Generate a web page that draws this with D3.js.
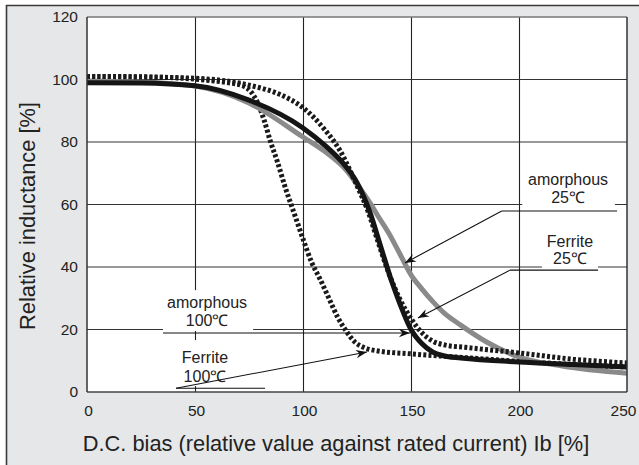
<!DOCTYPE html>
<html><head><meta charset="utf-8">
<script src="https://cdn.jsdelivr.net/npm/d3@7"></script>
<style>body{margin:0;background:#fff}svg{display:block;font-family:"Liberation Sans",Arial,Helvetica,sans-serif}</style>
</head><body><svg id="c" width="639" height="465"></svg>
<script>
// ---- data ----
const xTickValues=[0,50,100,150,200,250];
const yTickValues=[0,20,40,60,80,100,120];
const xTitle="D.C. bias (relative value against rated current) Ib [%]";
const yTitle="Relative inductance [%]";
const seriesNames=["amorphous 25℃","Ferrite 25℃","amorphous 100℃","Ferrite 100℃"];
const amorphous25=[[0,99.5],[25,99.2],[50,97.9],[75,92.5],[100,81.6],[110,77],[120,71],[126,65.5],[131,60.5],[135,56],[140,50.5],[145,44],[150,37.5],[155,33],[160,29],[165,25.5],[173,21.4],[185,16],[200,11.2],[220,8.3],[250,6]];
const ferrite25=[[0,101],[25,100.8],[50,100.4],[75,98.2],[90,95],[100,91],[110,84],[117,77.4],[125,66],[130,58],[135,47.5],[140,37.5],[145,29.5],[150,23.5],[155,19],[160,16.3],[166,15],[175,14.3],[200,12.5],[225,10.5],[250,9.3]];
const amorphous100=[[0,99],[25,98.9],[50,98],[75,93.4],[100,84.5],[110,79],[120,72],[125,67],[131,57.5],[136,46.5],[141,35.5],[145,28],[150,20],[155,15.5],[160,12.8],[165,11.6],[173,10.9],[200,9.6],[225,8.8],[250,8]];
const ferrite100=[[0,101],[30,100.8],[55,99.8],[65,99],[72,98],[76,96],[79,92.5],[82,87],[85,80],[88,74],[92,65],[96,57],[100,49],[104,41.5],[108,36],[112,30],[116,24],[120,19.5],[124,16],[128,14.3],[134,13.2],[150,12.2],[175,11],[200,9.8],[225,8.8],[250,8]];
const labelLines=[["amorphous","25℃"],["Ferrite","25℃"],["amorphous","100℃"],["Ferrite","100℃"]];

// ---- layout ----
const W=639,H=465;
const svg=d3.select("#c");
const x=d3.scaleLinear().domain([0,250]).range([87,627]);
const y=d3.scaleLinear().domain([0,120]).range([392,17]);

// outer panel
svg.append("rect").attr("x",6).attr("y",5).attr("width",W).attr("height",H).attr("fill","#e6e7e8");
svg.append("line").attr("x1",6.5).attr("x2",6.5).attr("y1",5).attr("y2",H).attr("stroke","#3a3a3a").attr("stroke-width",1.6);
svg.append("line").attr("x1",6).attr("x2",W).attr("y1",5.5).attr("y2",5.5).attr("stroke","#3a3a3a").attr("stroke-width",1.6);

// plot area
svg.append("rect").attr("x",x(0)).attr("y",y(120)).attr("width",x(250)-x(0)).attr("height",y(0)-y(120)).attr("fill","#fff");

const g=svg.append("g");
// grid
g.selectAll(".vg").data(xTickValues.slice(1,-1)).join("line")
 .attr("x1",d=>x(d)+0.5).attr("x2",d=>x(d)+0.5).attr("y1",y(120)).attr("y2",y(0))
 .attr("stroke","#222").attr("stroke-width",1.1);
g.selectAll(".hg").data(yTickValues.slice(1,-1)).join("line")
 .attr("x1",x(0)).attr("x2",x(250)).attr("y1",d=>y(d)).attr("y2",d=>y(d))
 .attr("stroke","#333").attr("stroke-width",1.2);

// axes (labels only, via d3 axis)
const xAxis=svg.append("g").attr("transform",`translate(0,${y(0)})`)
 .call(d3.axisBottom(x).tickValues(xTickValues).tickSize(0).tickPadding(13));
const yAxis=svg.append("g").attr("transform",`translate(${x(0)},0)`)
 .call(d3.axisLeft(y).tickValues(yTickValues).tickSize(0).tickPadding(9));
[xAxis,yAxis].forEach(a=>{a.select(".domain").remove();
 a.selectAll("text").attr("font-size",15.5).attr("fill","#222").attr("font-family",'"Liberation Sans",Arial,sans-serif');});
xAxis.selectAll("text").attr("dx",(d,i)=>i===xTickValues.length-1?"-4":"1");

// curves
const line=d3.line().x(d=>x(d[0])).y(d=>y(d[1])).curve(d3.curveMonotoneX);
const series=[
 {data:ferrite100,color:"#1a1a1a",dash:"3,2.2"},
 {data:amorphous25,color:"#8a8a8a",dash:null},
 {data:ferrite25,color:"#1a1a1a",dash:"3,2.2"},
 {data:amorphous100,color:"#151515",dash:null}
];
g.selectAll(".s").data(series).join("path")
 .attr("d",d=>line(d.data)).attr("fill","none")
 .attr("stroke",d=>d.color).attr("stroke-width",5)
 .attr("stroke-dasharray",d=>d.dash);

// annotations (positions in data units)
const ann=[
 {lines:labelLines[0],tx:222.7,ty:[66.2,60.5],box:[201.5,244.4,72,58.9],ul:[192,245.4,57.9],tip:[147.2,41.3]},
 {lines:labelLines[1],tx:223.6,ty:[46.4,41],box:[210.6,236.6,51.8,39.7],ul:[195.8,236.6,39.0],tip:[153.2,23.7]},
 {lines:labelLines[2],tx:55.6,ty:[26.9,21.1],box:[35.2,76.9,32.6,19.5],ul:[35.2,35.2,18.9],tip:[149.5,18.9]},
 {lines:labelLines[3],tx:54.6,ty:[9.2,3.1],box:[38.4,70.8,16.6,1.9],ul:[41.2,82.4,1.2],tip:[129.6,12.8]}
];
const defs=svg.append("defs");
defs.append("marker").attr("id","arr").attr("viewBox","-12 -6 14 12").attr("refX",0).attr("refY",0)
 .attr("markerWidth",14).attr("markerHeight",12).attr("markerUnits","userSpaceOnUse").attr("orient","auto")
 .append("path").attr("d","M0,0 L-11,-4.2 L-7.5,0 L-11,4.2 Z").attr("fill","#111");

const ag=svg.append("g");
ann.forEach(a=>{
 ag.append("rect").attr("x",x(a.box[0])).attr("y",y(a.box[2])).attr("width",x(a.box[1])-x(a.box[0])).attr("height",y(a.box[3])-y(a.box[2])).attr("fill","#fff");
 a.lines.forEach((t,i)=>ag.append("text").attr("x",x(a.tx)).attr("y",y(a.ty[i])).attr("text-anchor","middle")
   .attr("font-size",16).attr("fill","#222").text(t));
 ag.append("line").attr("x1",x(a.ul[0])).attr("x2",x(a.ul[1])).attr("y1",y(a.ul[2])).attr("y2",y(a.ul[2])).attr("stroke","#111").attr("stroke-width",1.1);
 ag.append("line").attr("x1",x(a.ul[0])).attr("y1",y(a.ul[2])).attr("x2",x(a.tip[0])).attr("y2",y(a.tip[1]))
   .attr("stroke","#111").attr("stroke-width",1.1).attr("marker-end","url(#arr)");
});

// frame
svg.append("line").attr("x1",x(0)).attr("x2",x(250)).attr("y1",y(120)).attr("y2",y(120)).attr("stroke","#777").attr("stroke-width",1.5);
svg.append("line").attr("x1",x(0)).attr("x2",x(250)).attr("y1",y(0)).attr("y2",y(0)).attr("stroke","#444").attr("stroke-width",1.5);
svg.append("line").attr("x1",x(0)).attr("x2",x(0)).attr("y1",y(120)).attr("y2",y(0)).attr("stroke","#333").attr("stroke-width",1.5);
svg.append("line").attr("x1",x(250)).attr("x2",x(250)).attr("y1",y(120)).attr("y2",y(0)).attr("stroke","#333").attr("stroke-width",1.5);

// titles
svg.append("text").attr("x",336).attr("y",451).attr("text-anchor","middle").attr("font-size",21.8).attr("fill","#222").text(xTitle);
svg.append("text").attr("transform",`translate(35,216) rotate(-90)`).attr("text-anchor","middle").attr("font-size",21.8).attr("fill","#222").text(yTitle);
</script></body></html>
